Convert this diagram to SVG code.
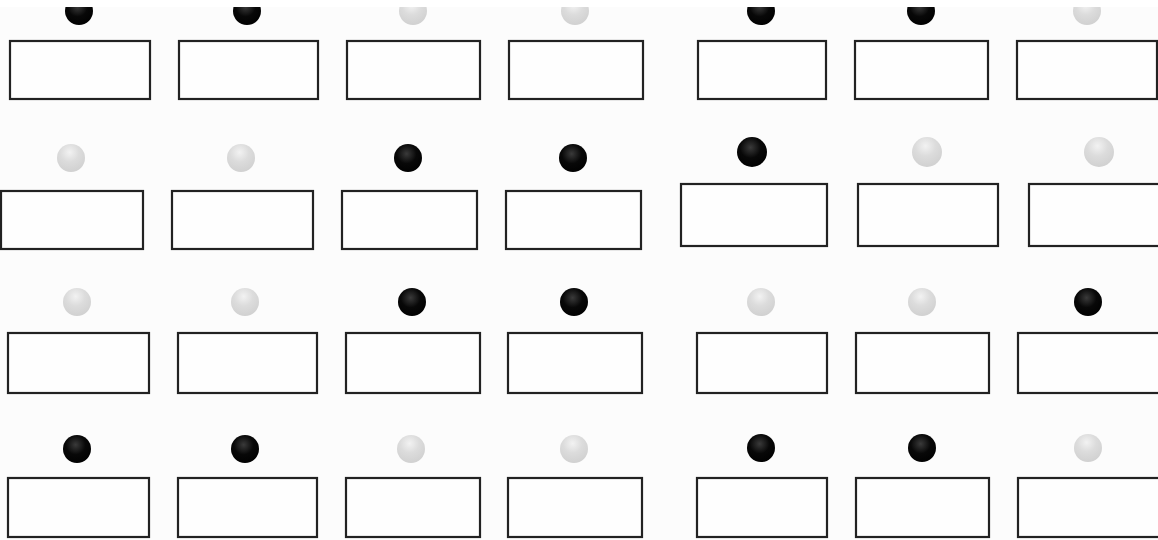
<svg xmlns="http://www.w3.org/2000/svg" width="1158" height="540" viewBox="0 0 1158 540">
<defs>
<radialGradient id="gBlack" cx="0.45" cy="0.35" r="0.7">
<stop offset="0" stop-color="#3a3a3a"/>
<stop offset="0.5" stop-color="#080808"/>
<stop offset="1" stop-color="#000"/>
</radialGradient>
<radialGradient id="gGray" cx="0.45" cy="0.3" r="0.75">
<stop offset="0" stop-color="#f2f2f2"/>
<stop offset="0.45" stop-color="#dcdcdc"/>
<stop offset="1" stop-color="#cfcfcf"/>
</radialGradient>
<style>
.box{fill:#fefefe;stroke:#222;stroke-width:2.2}
.on{fill:url(#gBlack)}
.off{fill:url(#gGray)}
</style>
</defs>
<rect x="0" y="0" width="1158" height="540" fill="#fcfcfc"/>
<g id="row1">
<g id="n1-1"><circle class="on" cx="79" cy="11" r="14"/><rect class="box" x="10" y="41" width="140" height="58"/></g>
<g id="n1-2"><circle class="on" cx="247" cy="11" r="14"/><rect class="box" x="179" y="41" width="139" height="58"/></g>
<g id="n1-3"><circle class="off" cx="413" cy="11" r="14"/><rect class="box" x="347" y="41" width="133" height="58"/></g>
<g id="n1-4"><circle class="off" cx="575" cy="11" r="14"/><rect class="box" x="509" y="41" width="134" height="58"/></g>
<g id="n1-5"><circle class="on" cx="761" cy="11" r="14"/><rect class="box" x="698" y="41" width="128" height="58"/></g>
<g id="n1-6"><circle class="on" cx="921" cy="11" r="14"/><rect class="box" x="855" y="41" width="133" height="58"/></g>
<g id="n1-7"><circle class="off" cx="1087" cy="11" r="14"/><rect class="box" x="1017" y="41" width="140" height="58"/></g>
</g>
<rect x="0" y="0" width="1158" height="7" fill="#ffffff"/>
<g id="row2">
<g id="n2-1"><circle class="off" cx="71" cy="158" r="14"/><rect class="box" x="1" y="191" width="142" height="58"/></g>
<g id="n2-2"><circle class="off" cx="241" cy="158" r="14"/><rect class="box" x="172" y="191" width="141" height="58"/></g>
<g id="n2-3"><circle class="on" cx="408" cy="158" r="14"/><rect class="box" x="342" y="191" width="135" height="58"/></g>
<g id="n2-4"><circle class="on" cx="573" cy="158" r="14"/><rect class="box" x="506" y="191" width="135" height="58"/></g>
<g id="n2-5"><circle class="on" cx="752" cy="152" r="15"/><rect class="box" x="681" y="184" width="146" height="62"/></g>
<g id="n2-6"><circle class="off" cx="927" cy="152" r="15"/><rect class="box" x="858" y="184" width="140" height="62"/></g>
<g id="n2-7"><circle class="off" cx="1099" cy="152" r="15"/><rect class="box" x="1029" y="184" width="132" height="62"/></g>
</g>
<g id="row3">
<g id="n3-1"><circle class="off" cx="77" cy="302" r="14"/><rect class="box" x="8" y="333" width="141" height="60"/></g>
<g id="n3-2"><circle class="off" cx="245" cy="302" r="14"/><rect class="box" x="178" y="333" width="139" height="60"/></g>
<g id="n3-3"><circle class="on" cx="412" cy="302" r="14"/><rect class="box" x="346" y="333" width="134" height="60"/></g>
<g id="n3-4"><circle class="on" cx="574" cy="302" r="14"/><rect class="box" x="508" y="333" width="134" height="60"/></g>
<g id="n3-5"><circle class="off" cx="761" cy="302" r="14"/><rect class="box" x="697" y="333" width="130" height="60"/></g>
<g id="n3-6"><circle class="off" cx="922" cy="302" r="14"/><rect class="box" x="856" y="333" width="133" height="60"/></g>
<g id="n3-7"><circle class="on" cx="1088" cy="302" r="14"/><rect class="box" x="1018" y="333" width="142" height="60"/></g>
</g>
<g id="row4">
<g id="n4-1"><circle class="on" cx="77" cy="449" r="14"/><rect class="box" x="8" y="478" width="141" height="59"/></g>
<g id="n4-2"><circle class="on" cx="245" cy="449" r="14"/><rect class="box" x="178" y="478" width="139" height="59"/></g>
<g id="n4-3"><circle class="off" cx="411" cy="449" r="14"/><rect class="box" x="346" y="478" width="134" height="59"/></g>
<g id="n4-4"><circle class="off" cx="574" cy="449" r="14"/><rect class="box" x="508" y="478" width="134" height="59"/></g>
<g id="n4-5"><circle class="on" cx="761" cy="448" r="14"/><rect class="box" x="697" y="478" width="130" height="59"/></g>
<g id="n4-6"><circle class="on" cx="922" cy="448" r="14"/><rect class="box" x="856" y="478" width="133" height="59"/></g>
<g id="n4-7"><circle class="off" cx="1088" cy="448" r="14"/><rect class="box" x="1018" y="478" width="142" height="59"/></g>
</g>
<g id="connectors"/>
</svg>
